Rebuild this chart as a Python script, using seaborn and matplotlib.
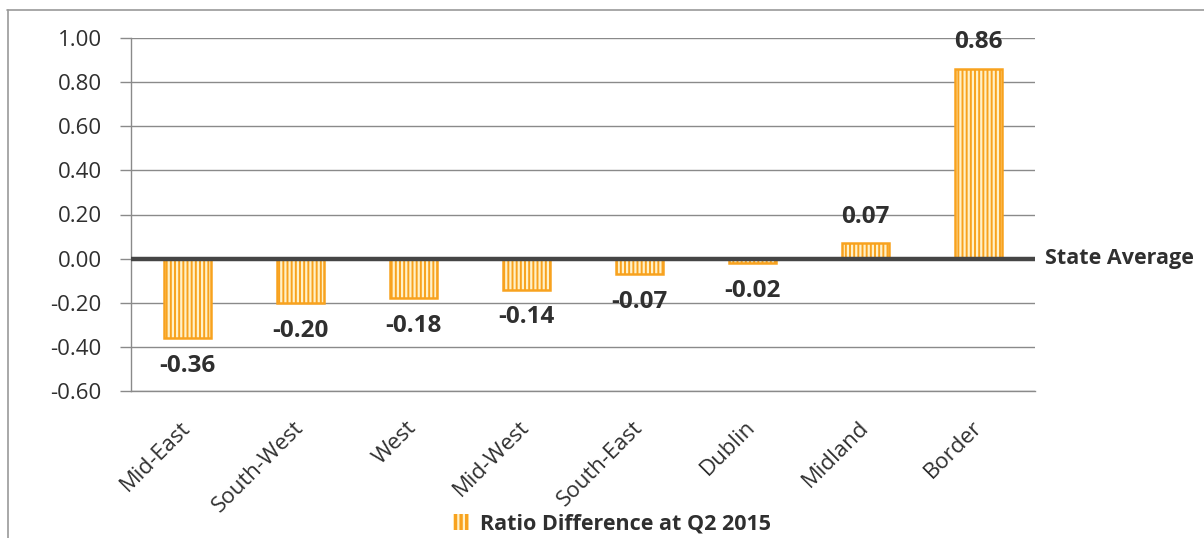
import matplotlib
matplotlib.use("Agg")
import matplotlib.pyplot as plt
from matplotlib.patches import Patch
from matplotlib.lines import Line2D
import seaborn as sns
import pandas as pd

# Regional ratio difference against the state average, Q2 2015
regions = ["Mid-East", "South-West", "West", "Mid-West", "South-East", "Dublin", "Midland", "Border"]
ratio_diff = [-0.36, -0.20, -0.18, -0.14, -0.07, -0.02, 0.07, 0.86]
y_ticks = [-0.60, -0.40, -0.20, 0.00, 0.20, 0.40, 0.60, 0.80, 1.00]
series_label = "Ratio Difference at Q2 2015"
baseline_label = "State Average"

sns.set_theme(style="white")
plt.rcParams["font.family"] = ["Open Sans", "DejaVu Sans"]
plt.rcParams["hatch.linewidth"] = 1.6

TEXT = "#2f2f2f"
GRID = "#8a8a8a"
ORANGE = "#F8A21E"
STRIPE = "#FFF1C8"

df = pd.DataFrame({"region": regions, "diff": ratio_diff})

fig = plt.figure(figsize=(12.04, 5.38), dpi=100)
ax = fig.add_axes([131 / 1204, 1 - 391 / 538, (1035 - 131) / 1204, (391 - 38) / 538])

# striped fill
sns.barplot(data=df, x="region", y="diff", color=ORANGE, saturation=1, width=0.42,
            hatch="||||", edgecolor=STRIPE, linewidth=0, ax=ax, zorder=3)
# outline
sns.barplot(data=df, x="region", y="diff", color=ORANGE, saturation=1, width=0.42,
            fill=False, linewidth=1.8, ax=ax, zorder=4)

ax.set_ylim(-0.6, 1.0)
ax.set_xlim(-0.5, len(regions) - 0.5)
ax.set_yticks(y_ticks)
ax.set_yticklabels([f"{v:.2f}" for v in y_ticks])
ax.set_xlabel("")
ax.set_ylabel("")

ax.yaxis.grid(True, color=GRID, linewidth=1.0, zorder=0)
ax.set_axisbelow(True)
for side in ["top", "right"]:
    ax.spines[side].set_visible(False)
for side in ["left", "bottom"]:
    ax.spines[side].set_color(GRID)
    ax.spines[side].set_linewidth(1.0)

ax.tick_params(axis="y", which="major", left=True, length=8, width=1.0, color=GRID,
               pad=13, labelsize=16, labelcolor=TEXT)
ax.tick_params(axis="x", which="major", bottom=False, length=0, pad=24,
               labelsize=16, labelcolor=TEXT)
for lbl in ax.get_xticklabels():
    lbl.set_rotation(45)
    lbl.set_ha("right")
    lbl.set_va("center")
    lbl.set_rotation_mode("anchor")

# state average baseline
ax.axhline(0, color="#454545", linewidth=3.2, zorder=5)
ax.annotate(baseline_label, xy=(1, 0), xycoords=("axes fraction", "data"),
            xytext=(7, 0), textcoords="offset points", ha="left", va="center",
            fontsize=15.5, fontweight="bold", color=TEXT, annotation_clip=False)

# value labels
for i, v in enumerate(ratio_diff):
    off = 19 if v >= 0 else -20
    ax.annotate(f"{v:.2f}", xy=(i, v), xytext=(0, off), textcoords="offset points",
                ha="center", va="center", fontsize=17.5, fontweight="bold", color=TEXT,
                zorder=6)

# legend
handle = Patch(facecolor=ORANGE, edgecolor=STRIPE, hatch="|||", linewidth=0)
fig.legend([handle], [series_label], loc="center", bbox_to_anchor=(612 / 1204, 1 - 524 / 538),
           frameon=False, handlelength=0.75, handleheight=0.75, handletextpad=0.5,
           prop={"size": 15.5, "weight": "bold"}, labelcolor=TEXT)

# outer frame edges
fig.add_artist(Line2D([7 / 1204, 1], [1 - 9.5 / 538, 1 - 9.5 / 538], color="#9a9a9a", linewidth=1.2))
fig.add_artist(Line2D([7.5 / 1204, 7.5 / 1204], [0, 1 - 9.5 / 538], color="#9a9a9a", linewidth=1.2))

fig.savefig("out.png", dpi=100, facecolor="white")
